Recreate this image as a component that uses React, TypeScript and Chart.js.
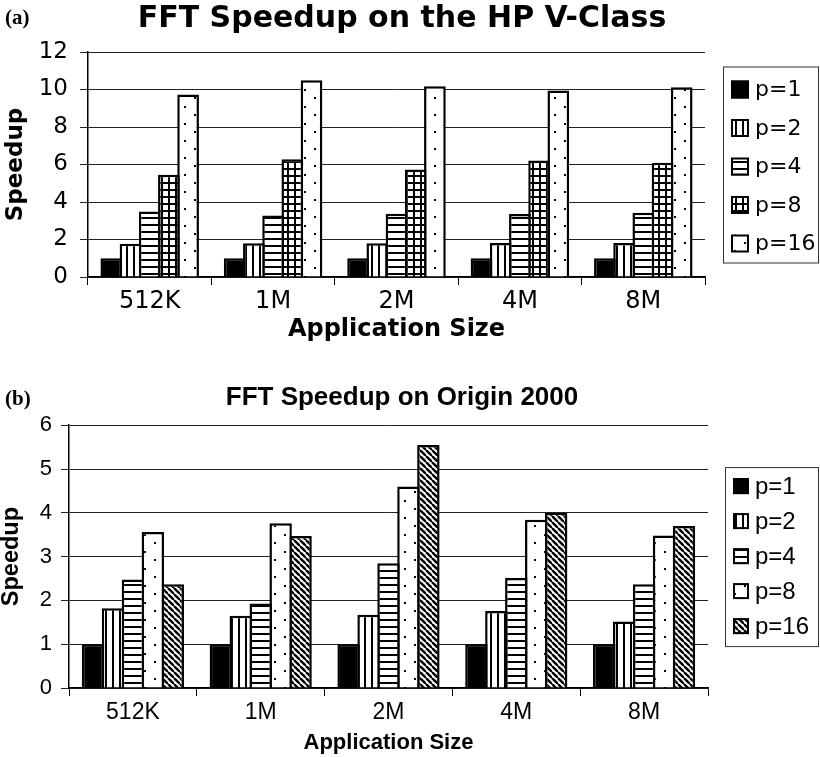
import React, { useEffect, useRef } from 'react';
import { Chart, registerables } from 'chart.js';

Chart.register(...registerables);

// ---------- data ----------
const categories = ['512K', '1M', '2M', '4M', '8M'];
const seriesLabels = ['p=1', 'p=2', 'p=4', 'p=8', 'p=16'];

// (a) HP V-Class
const hpP1 = [1.0, 1.0, 1.0, 1.0, 1.0];
const hpP2 = [1.78, 1.8, 1.8, 1.82, 1.82];
const hpP4 = [3.5, 3.28, 3.38, 3.36, 3.43];
const hpP8 = [5.45, 6.28, 5.74, 6.22, 6.1];
const hpP16 = [9.74, 10.5, 10.18, 9.95, 10.12];
const hpYMax = 12;
const hpYStep = 2;

// (b) Origin 2000
const orP1 = [1.0, 1.0, 1.0, 1.0, 1.0];
const orP2 = [1.82, 1.65, 1.67, 1.76, 1.52];
const orP4 = [2.48, 1.93, 2.85, 2.51, 2.37];
const orP8 = [3.56, 3.76, 4.6, 3.84, 3.48];
const orP16 = [2.37, 3.47, 5.55, 4.0, 3.7];
const orYMax = 6;
const orYStep = 1;

const LIB = "'Liberation Sans', Arial, Helvetica, sans-serif";
const DJV = "'DejaVu Sans', 'Liberation Sans', Arial, sans-serif";

// ---------- patterns ----------
function makePattern(kind: string): CanvasPattern | string {
  if (kind === 'solid') return '#000000';
  const c = document.createElement('canvas');
  let w = 6, h = 6;
  if (kind === 'vlines') { w = 7; h = 6; }
  if (kind === 'hlines') { w = 6; h = 7; }
  if (kind === 'grid') { w = 7; h = 7; }
  if (kind === 'dots') { w = 20; h = 17; }
  if (kind === 'diag') { w = 6; h = 6; }
  c.width = w; c.height = h;
  const x = c.getContext('2d') as CanvasRenderingContext2D;
  x.fillStyle = '#ffffff';
  x.fillRect(0, 0, w, h);
  x.fillStyle = '#000000';
  if (kind === 'vlines') {
    x.fillRect(0, 0, 2, h);
  } else if (kind === 'hlines') {
    x.fillRect(0, 0, w, 2);
  } else if (kind === 'grid') {
    x.fillRect(0, 0, 2, h);
    x.fillRect(0, 0, w, 2);
  } else if (kind === 'dots') {
    x.fillRect(4, 4, 2, 2);
    x.fillRect(14, 12, 2, 2);
  } else if (kind === 'diag') {
    x.strokeStyle = '#000000';
    x.lineWidth = 2.4;
    for (const k of [-w, 0, w]) {
      x.beginPath();
      x.moveTo(k, 0);
      x.lineTo(k + w, h);
      x.stroke();
    }
  }
  const ctx = document.createElement('canvas').getContext('2d') as CanvasRenderingContext2D;
  return ctx.createPattern(c, 'repeat') as CanvasPattern;
}

// ---------- boxed legend plugin ----------
const boxLegend = {
  id: 'boxLegend',
  afterDraw(chart: any, _args: any, o: any) {
    const { ctx, chartArea } = chart;
    const left = chartArea.right + o.gap;
    const top = (chartArea.top + chartArea.bottom) / 2 - o.height / 2;
    ctx.save();
    ctx.fillStyle = '#ffffff';
    ctx.fillRect(left, top, o.width, o.height);
    ctx.strokeStyle = '#333333';
    ctx.lineWidth = 1;
    ctx.strokeRect(left + 0.5, top + 0.5, o.width, o.height);
    ctx.font = `${o.fontSize}px ${o.family}`;
    ctx.textBaseline = 'middle';
    ctx.textAlign = 'left';
    chart.data.datasets.forEach((ds: any, i: number) => {
      const cy = top + o.firstRow + i * o.rowH;
      const sx = left + o.swatchX;
      const sy = cy - o.swatch / 2;
      ctx.fillStyle = ds.backgroundColor;
      ctx.fillRect(sx, sy, o.swatch, o.swatch);
      ctx.strokeStyle = '#000000';
      ctx.lineWidth = 2;
      ctx.strokeRect(sx + 1, sy + 1, o.swatch - 2, o.swatch - 2);
      ctx.fillStyle = '#000000';
      ctx.fillText(ds.label, left + o.textX, cy + 1);
    });
    ctx.restore();
  },
};

interface Spec {
  title: string;
  series: number[][];
  kinds: string[];
  yMax: number;
  yStep: number;
  titleFont: any;
  titlePad: { top: number; bottom: number };
  xTickFont: any;
  yTickFont: any;
  xTitleFont: any;
  yTitleFont: any;
  yTitlePadTop: number;
  yAxisWidth: number;
  yTickPad: number;
  rightReserve: number;
  xAxisHeight: number;
  xTickPad: number;
  xTitlePadBottom: number;
  catPct: number;
  barPct: number;
  legend: any;
}

function buildChart(canvas: HTMLCanvasElement, s: Spec) {
  const datasets = s.series.map((vals, i) => ({
    label: seriesLabels[i],
    data: vals,
    backgroundColor: makePattern(s.kinds[i]),
    borderColor: '#000000',
    borderWidth: 2.5,
    borderSkipped: 'start' as const,
    categoryPercentage: s.catPct,
    barPercentage: s.barPct,
  }));
  return new Chart(canvas, {
    type: 'bar',
    data: { labels: categories, datasets },
    plugins: [boxLegend],
    options: {
      responsive: false,
      animation: false,
      devicePixelRatio: 1,
      layout: { padding: { left: 0, right: 16, top: 0, bottom: 0 } },
      plugins: {
        legend: { display: false },
        tooltip: { enabled: false },
        title: {
          display: true,
          text: s.title,
          color: '#000000',
          font: s.titleFont,
          padding: s.titlePad,
        },
        boxLegend: s.legend,
      } as any,
      scales: {
        x: {
          offset: true,
          ticks: { color: '#000000', font: s.xTickFont, padding: s.xTickPad, maxRotation: 0 },
          grid: { drawOnChartArea: false, drawTicks: true, tickLength: 8, color: '#000000', offset: true },
          border: { display: true, color: '#000000', width: 1.5 },
          title: {
            display: true,
            text: 'Application Size',
            color: '#000000',
            font: s.xTitleFont,
            padding: { top: 0, bottom: s.xTitlePadBottom },
          },
          afterFit: (sc: any) => { sc.height = s.xAxisHeight; },
        },
        y: {
          min: 0,
          max: s.yMax,
          ticks: { stepSize: s.yStep, color: '#000000', font: s.yTickFont, padding: s.yTickPad },
          grid: { color: '#222222', lineWidth: 1, tickLength: 8, drawTicks: true },
          border: { display: true, color: '#000000', width: 1.5 },
          title: {
            display: true,
            text: 'Speedup',
            color: '#000000',
            font: s.yTitleFont,
            padding: { top: s.yTitlePadTop, bottom: 0 },
          },
          afterFit: (sc: any) => { sc.width = s.yAxisWidth; },
        },
        yr: {
          type: 'linear',
          position: 'right',
          display: true,
          grid: { display: false },
          border: { display: false },
          ticks: { display: false },
          afterFit: (sc: any) => { sc.width = s.rightReserve; },
        },
      } as any,
    },
  });
}

export default function App() {
  const refA = useRef<HTMLCanvasElement>(null);
  const refB = useRef<HTMLCanvasElement>(null);

  useEffect(() => {
    document.body.style.margin = '0';
    const a = buildChart(refA.current as HTMLCanvasElement, {
      title: 'FFT Speedup on the HP V-Class',
      series: [hpP1, hpP2, hpP4, hpP8, hpP16],
      kinds: ['solid', 'vlines', 'hlines', 'grid', 'dots'],
      yMax: hpYMax,
      yStep: hpYStep,
      titleFont: { family: DJV, size: 30, weight: 'bold' },
      titlePad: { top: 1, bottom: 15 },
      xTickFont: { family: DJV, size: 24 },
      yTickFont: { family: DJV, size: 23 },
      xTitleFont: { family: DJV, size: 24, weight: 'bold' },
      yTitleFont: { family: DJV, size: 23, weight: 'bold' },
      yTitlePadTop: 2,
      yAxisWidth: 88,
      yTickPad: 12,
      rightReserve: 99,
      xAxisHeight: 69,
      xTickPad: 2,
      xTitlePadBottom: 2,
      catPct: 0.778,
      barPct: 1.13,
      legend: { gap: 18, width: 95, height: 196, firstRow: 23, rowH: 38.5, swatch: 18, swatchX: 8, textX: 32, fontSize: 22, family: DJV },
    });
    const b = buildChart(refB.current as HTMLCanvasElement, {
      title: 'FFT Speedup on Origin 2000',
      series: [orP1, orP2, orP4, orP8, orP16],
      kinds: ['solid', 'vlines', 'hlines', 'dots', 'diag'],
      yMax: orYMax,
      yStep: orYStep,
      titleFont: { family: LIB, size: 26, weight: 'bold' },
      titlePad: { top: 22, bottom: 12 },
      xTickFont: { family: LIB, size: 23 },
      yTickFont: { family: LIB, size: 22 },
      xTitleFont: { family: LIB, size: 22, weight: 'bold' },
      yTitleFont: { family: LIB, size: 23.5, weight: 'bold', lineHeight: 1 },
      yTitlePadTop: 0,
      yAxisWidth: 69,
      yTickPad: 9,
      rightReserve: 96,
      xAxisHeight: 69,
      xTickPad: 3,
      xTitlePadBottom: 1,
      catPct: 0.78,
      barPct: 1.125,
      legend: { gap: 17, width: 93, height: 179, firstRow: 19, rowH: 35, swatch: 16, swatchX: 8, textX: 30, fontSize: 24, family: LIB },
    });
    return () => { a.destroy(); b.destroy(); };
  }, []);

  const tag: React.CSSProperties = {
    position: 'absolute',
    left: 5,
    fontFamily: "'Liberation Serif', 'Times New Roman', serif",
    fontWeight: 'bold',
    fontSize: 21,
    lineHeight: '22px',
    zIndex: 2,
  };

  return (
    <div style={{ position: 'absolute', left: 0, top: 0, width: 820, height: 757, background: '#ffffff', overflow: 'hidden' }}>
      <canvas ref={refA} width={820} height={346} style={{ position: 'absolute', left: 0, top: 0 }} />
      <canvas ref={refB} width={820} height={397} style={{ position: 'absolute', left: 0, top: 360 }} />
      <div style={{ ...tag, top: 6 }}>(a)</div>
      <div style={{ ...tag, top: 387 }}>(b)</div>
    </div>
  );
}
